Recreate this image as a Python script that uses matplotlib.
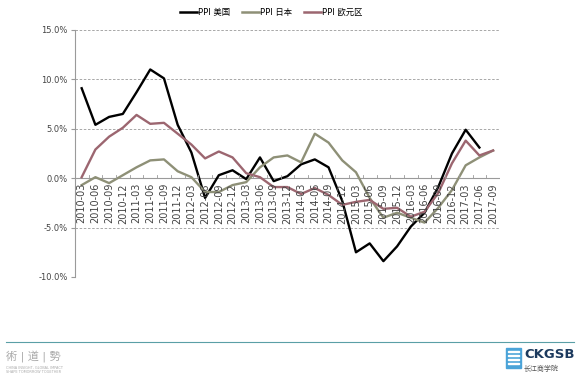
import numpy as np
import matplotlib
matplotlib.use("Agg")
import matplotlib.pyplot as plt
from matplotlib.lines import Line2D
from matplotlib.patches import Rectangle

plt.rcParams['font.family'] = ['DejaVu Sans', 'Noto Sans CJK SC']

# quarterly labels 2010-03 .. 2017-09
quarters = [f"{y}-{m}" for y in range(2010, 2018) for m in ("03", "06", "09", "12")][:31]

ppi_us = [9.1, 5.4, 6.2, 6.5, 8.7, 11.0, 10.1, 5.4, 2.6, -2.0, 0.3, 0.8, -0.1, 2.1, -0.3, 0.2,
          1.4, 1.9, 1.1, -2.3, -7.5, -6.6, -8.4, -6.9, -4.9, -3.5, -0.9, 2.5, 4.9, 3.1, np.nan]
ppi_jp = [-0.7, 0.1, -0.5, 0.3, 1.1, 1.8, 1.9, 0.7, 0.1, -1.4, -1.4, -0.7, -0.4, 1.1, 2.1, 2.3,
          1.6, 4.5, 3.6, 1.8, 0.6, -2.0, -4.0, -3.5, -4.0, -4.5, -3.0, -1.2, 1.3, 2.1, 2.8]
ppi_eu = [0.1, 2.9, 4.2, 5.1, 6.4, 5.5, 5.6, 4.5, 3.4, 2.0, 2.7, 2.1, 0.5, 0.1, -0.9, -0.9,
          -1.6, -1.0, -1.7, -2.7, -2.4, -2.2, -3.1, -3.0, -3.9, -3.4, -1.5, 1.5, 3.8, 2.3, 2.8]

series_names = ["PPI 美国", "PPI 日本", "PPI 欧元区"]
colors = ["#000000", "#8e9077", "#9c6670"]

fig = plt.figure(figsize=(5.8, 3.83), dpi=100)
ax = fig.add_axes([0.129, 0.2768, 0.733, 0.645])

x = np.arange(len(quarters))
for vals, c in zip([ppi_us, ppi_jp, ppi_eu], colors):
    ax.plot(x, vals, color=c, lw=1.7)

ax.set_xlim(-0.5, len(quarters) - 0.5)
ax.set_ylim(-10, 15)
ax.set_yticks([-10, -5, 0, 5, 10, 15])
ax.set_yticklabels([f"{v:.1f}%" for v in [-10, -5, 0, 5, 10, 15]], fontsize=6, color="#444444")
for v in [-10, -5, 5, 10, 15]:
    ax.axhline(v, color="#9a9a9a", lw=0.6, ls=(0, (3, 2)), zorder=0)
ax.axhline(0, color="#9a9a9a", lw=0.8, zorder=0)

for s in ["top", "right", "bottom"]:
    ax.spines[s].set_visible(False)
ax.spines["left"].set_color("#9a9a9a")
ax.spines["left"].set_linewidth(0.8)
ax.tick_params(axis="y", length=3, color="#9a9a9a", pad=2)

ax.set_xticks([])
for i, q in enumerate(quarters):
    ax.text(i, -0.5, q, rotation=90, ha="center", va="top", fontsize=7, color="#444444")
    ax.plot([i + 0.5, i + 0.5], [0, 0.3], color="#9a9a9a", lw=0.6)

handles = [Line2D([], [], color=c, lw=1.8) for c in colors]
fig.legend(handles, series_names, loc="center", bbox_to_anchor=(0.468, 0.968), ncol=3,
           frameon=False, fontsize=6, handlelength=2.0, handletextpad=0.2, columnspacing=1.4)

# footer decorations
fig.add_artist(Line2D([0.01, 0.99], [1 - 342 / 383, 1 - 342 / 383], color="#5a9fa6", lw=0.8))
fig.text(0.01, 1 - 356 / 383, "術 | 道 | 勢", fontsize=8, color="#aaaaaa", va="center")
fig.text(0.01, 1 - 370 / 383, "CHINA INSIGHT, GLOBAL IMPACT\nSHAPE TOMORROW TOGETHER",
         fontsize=2.5, color="#aaaaaa", va="center", linespacing=1.3)
fig.add_artist(Rectangle((506 / 580, 1 - 368 / 383), 15 / 580, 20 / 383, color="#4aa3d8"))
for k in range(4):
    fig.add_artist(Rectangle((508 / 580, 1 - (364 - 4 * k) / 383), 11 / 580, 1.2 / 383, color="white"))
fig.text(524 / 580, 1 - 355 / 383, "CKGSB", fontsize=9.5, color="#1c3a5e", va="center",
         fontweight="bold")
fig.text(524 / 580, 1 - 368 / 383, "长江商学院", fontsize=5, color="#555555", va="center")

fig.savefig("out.png", dpi=100, facecolor="white")
